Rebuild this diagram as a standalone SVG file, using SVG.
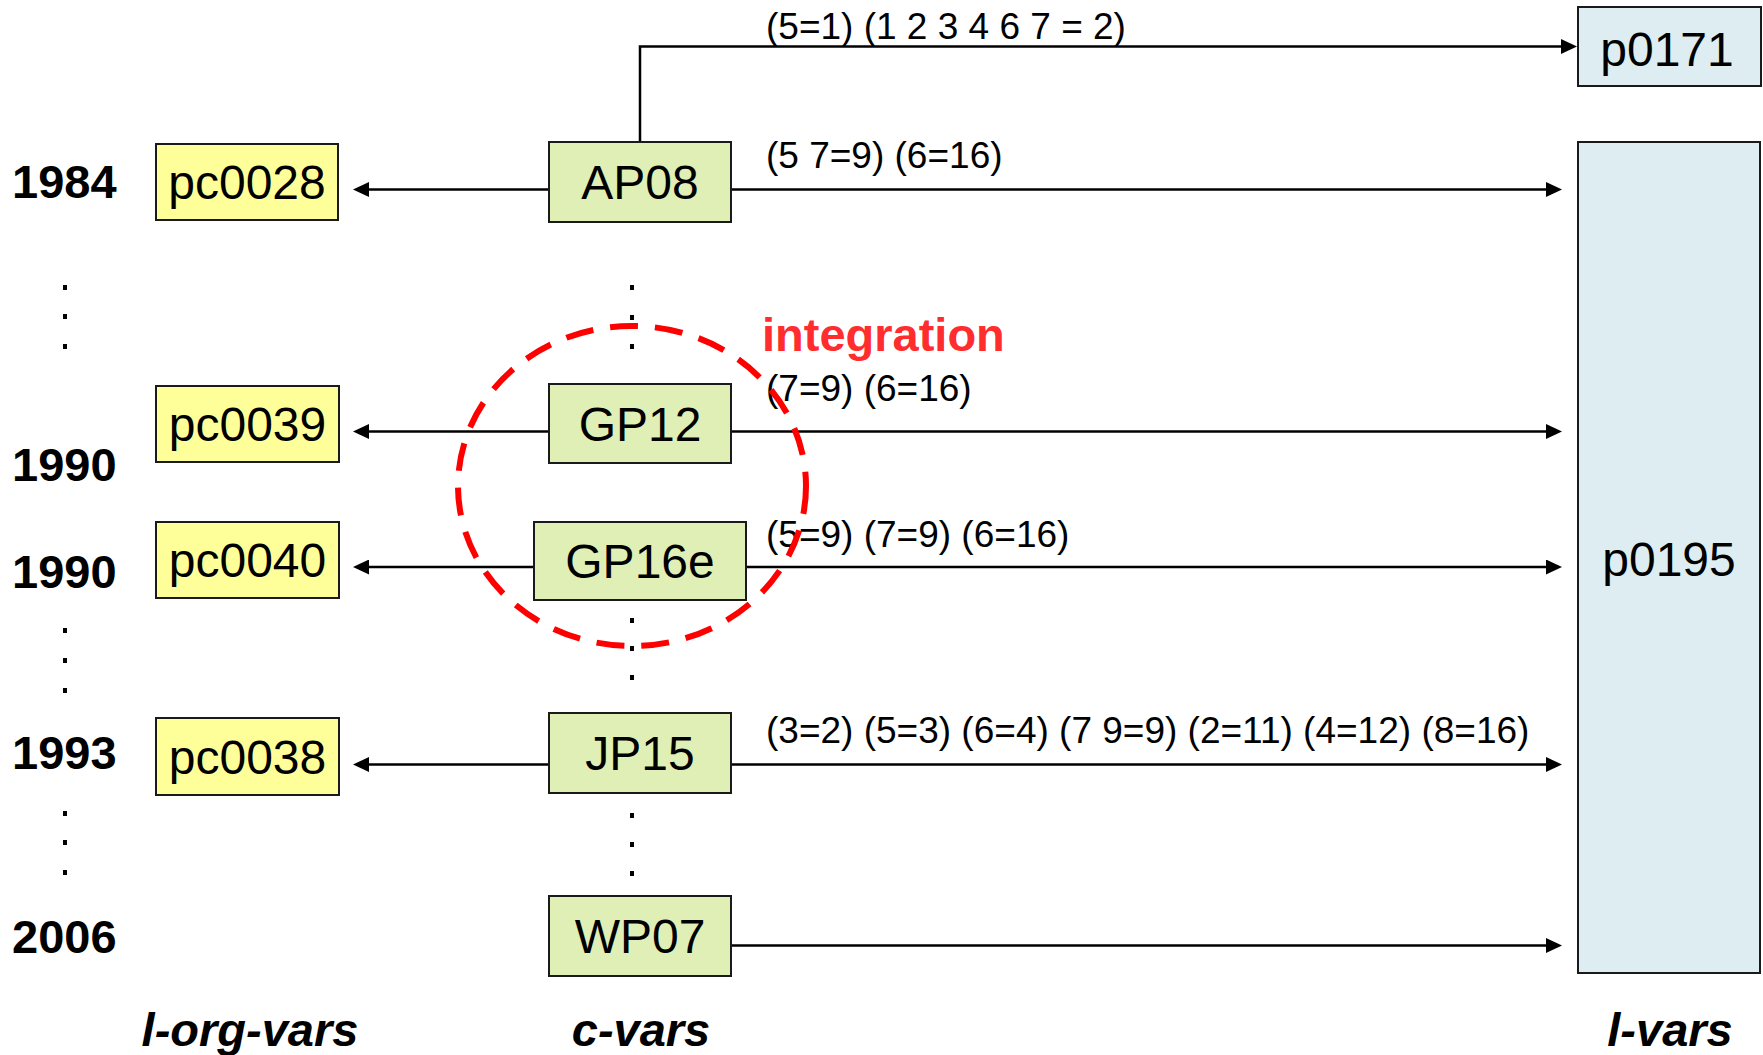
<svg xmlns="http://www.w3.org/2000/svg" width="1763" height="1055" viewBox="0 0 1763 1055">
  <style>
    text { font-family: "Liberation Sans", Arial, sans-serif; fill: #000; }
    .year { font-size: 47px; font-weight: bold; }
    .lbl { font-size: 48px; text-anchor: middle; }
    .map { font-size: 37px; }
    .col { font-size: 47px; font-weight: bold; font-style: italic; text-anchor: middle; }
    .org { fill: #FFFF99; stroke: #1a1a1a; stroke-width: 2; }
    .cv { fill: #DFEFB5; stroke: #1a1a1a; stroke-width: 2; }
    .lv { fill: #DEEDF1; stroke: #1a1a1a; stroke-width: 2; }
    .arrow { fill: none; stroke: #000; stroke-width: 2.5; marker-end: url(#head); }
    .dot { fill: #000; }
  </style>
  <defs>
    <marker id="head" markerUnits="userSpaceOnUse" markerWidth="16" markerHeight="15" refX="6" refY="7.5" orient="auto">
      <path d="M0,0 L16,7.5 L0,15 Z" fill="#000"/>
    </marker>
  </defs>
  <rect width="1763" height="1055" fill="#fff"/>

  <!-- year labels -->
  <g id="years">
    <text class="year" x="12" y="198">1984</text>
    <text class="year" x="12" y="481">1990</text>
    <text class="year" x="12" y="588">1990</text>
    <text class="year" x="12" y="769">1993</text>
    <text class="year" x="12" y="953">2006</text>
  </g>

  <!-- ellipsis dots -->
  <g id="dots">
    <rect class="dot" x="63" y="285" width="4" height="5"/>
    <rect class="dot" x="63" y="314" width="4" height="5"/>
    <rect class="dot" x="63" y="344" width="4" height="5"/>
    <rect class="dot" x="63" y="628" width="4" height="5"/>
    <rect class="dot" x="63" y="658" width="4" height="5"/>
    <rect class="dot" x="63" y="688" width="4" height="5"/>
    <rect class="dot" x="63" y="811" width="4" height="5"/>
    <rect class="dot" x="63" y="840" width="4" height="5"/>
    <rect class="dot" x="63" y="870" width="4" height="5"/>
    <rect class="dot" x="630" y="285" width="4" height="5"/>
    <rect class="dot" x="630" y="315" width="4" height="5"/>
    <rect class="dot" x="630" y="344" width="4" height="5"/>
    <rect class="dot" x="630" y="618" width="4" height="5"/>
    <rect class="dot" x="630" y="646" width="4" height="5"/>
    <rect class="dot" x="630" y="675" width="4" height="5"/>
    <rect class="dot" x="630" y="813" width="4" height="5"/>
    <rect class="dot" x="630" y="842" width="4" height="5"/>
    <rect class="dot" x="630" y="871" width="4" height="5"/>
  </g>

  <!-- connectors -->
  <g id="connectors">
    <path class="arrow" d="M640,142 V46.5 H1567"/>
    <line class="arrow" x1="549" y1="189.5" x2="363" y2="189.5"/>
    <line class="arrow" x1="731" y1="189.5" x2="1552" y2="189.5"/>
    <line class="arrow" x1="549" y1="431.5" x2="363" y2="431.5"/>
    <line class="arrow" x1="731" y1="431.5" x2="1552" y2="431.5"/>
    <line class="arrow" x1="534" y1="567" x2="363" y2="567"/>
    <line class="arrow" x1="746" y1="567" x2="1552" y2="567"/>
    <line class="arrow" x1="549" y1="764.5" x2="363" y2="764.5"/>
    <line class="arrow" x1="731" y1="764.5" x2="1552" y2="764.5"/>
    <line class="arrow" x1="731" y1="945.5" x2="1552" y2="945.5"/>
  </g>

  <!-- mapping labels -->
  <g id="mappings">
    <text class="map" x="766" y="39">(5=1) (1 2 3 4 6 7 = 2)</text>
    <text class="map" x="766" y="168">(5 7=9) (6=16)</text>
    <text class="map" x="766" y="401">(7=9) (6=16)</text>
    <text class="map" x="766" y="547">(5=9) (7=9) (6=16)</text>
    <text class="map" x="766" y="743">(3=2) (5=3) (6=4) (7 9=9) (2=11) (4=12) (8=16)</text>
  </g>

  <!-- l-org-vars column -->
  <g id="pc0028"><rect class="org" x="156" y="144" width="182" height="76"/><text class="lbl" x="247" y="199">pc0028</text></g>
  <g id="pc0039"><rect class="org" x="156" y="386" width="183" height="76"/><text class="lbl" x="247.5" y="441">pc0039</text></g>
  <g id="pc0040"><rect class="org" x="156" y="522" width="183" height="76"/><text class="lbl" x="247.5" y="577">pc0040</text></g>
  <g id="pc0038"><rect class="org" x="156" y="718" width="183" height="77"/><text class="lbl" x="247.5" y="774">pc0038</text></g>

  <!-- c-vars column -->
  <g id="AP08"><rect class="cv" x="549" y="142" width="182" height="80"/><text class="lbl" x="640" y="199">AP08</text></g>
  <g id="GP12"><rect class="cv" x="549" y="384" width="182" height="79"/><text class="lbl" x="640" y="441">GP12</text></g>
  <g id="GP16e"><rect class="cv" x="534" y="522" width="212" height="78"/><text class="lbl" x="640" y="578">GP16e</text></g>
  <g id="JP15"><rect class="cv" x="549" y="713" width="182" height="80"/><text class="lbl" x="640" y="770">JP15</text></g>
  <g id="WP07"><rect class="cv" x="549" y="896" width="182" height="80"/><text class="lbl" x="640" y="953">WP07</text></g>

  <!-- l-vars column -->
  <g id="p0171"><rect class="lv" x="1578" y="7" width="183" height="79"/><text class="lbl" x="1667" y="66">p0171</text></g>
  <g id="p0195"><rect class="lv" x="1578" y="142" width="182" height="831"/><text class="lbl" x="1669" y="576">p0195</text></g>

  <!-- integration marker -->
  <g id="integration">
    <ellipse cx="632" cy="486" rx="174" ry="160" fill="none" stroke="#FF0000" stroke-width="6" stroke-dasharray="28 17"/>
    <text x="762" y="351" font-size="47" font-weight="bold" style="fill:#FF2D2D">integration</text>
  </g>

  <!-- column headings -->
  <g id="headings">
    <text class="col" x="250" y="1046">l-org-vars</text>
    <text class="col" x="641" y="1046">c-vars</text>
    <text class="col" x="1670" y="1046">l-vars</text>
  </g>
</svg>
